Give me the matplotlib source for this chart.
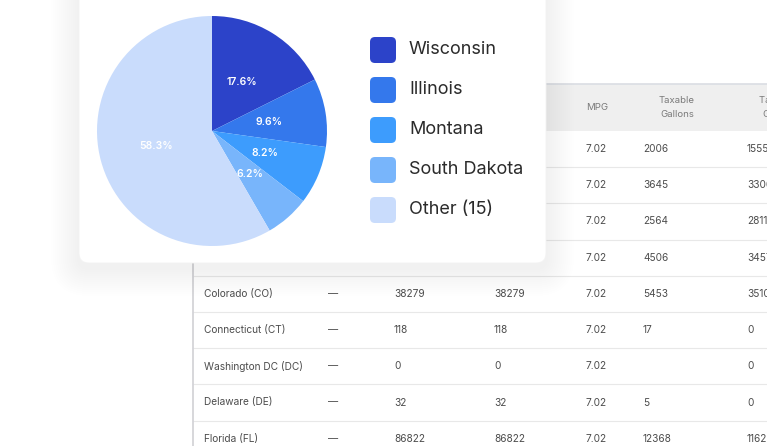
"""Pie card (fuel share by state) floating over an IFTA mileage table."""

import matplotlib

matplotlib.use("Agg")
import matplotlib.pyplot as plt
from matplotlib.patches import FancyBboxPatch, Rectangle

plt.rcParams["font.family"] = ["Inter", "DejaVu Sans"]

# pie data
STATES = ["Wisconsin", "Illinois", "Montana", "South Dakota", "Other (15)"]
SHARES = [17.6, 9.6, 8.2, 6.2, 58.3]
COLORS = ["#2c43c9", "#3478ec", "#3d9cfd", "#78b5fb", "#c9dcfc"]

# table data (first rows sit under the card)
HEADERS = ["", "", "", "", "MPG", "Taxable\nGallons", "Tax Paid\nGallons"]
JURISDICTIONS = ["", "", "", "", "Colorado (CO)", "Connecticut (CT)",
                 "Washington DC (DC)", "Delaware (DE)", "Florida (FL)"]
FLAGS = ["—"] * 9
TOTAL_MILES = ["", "", "", "", "38279", "118", "0", "32", "86822"]
TAXABLE_MILES = ["", "", "", "", "38279", "118", "0", "32", "86822"]
MPG = ["7.02"] * 9
TAXABLE_GALLONS = ["2006", "3645", "2564", "4506", "5453", "17", "", "5", "12368"]
TAX_PAID_GALLONS = ["1555", "3306", "2811", "3457", "3510", "0", "0", "0", "11628"]

W, H = 767, 446
fig = plt.figure(figsize=(W / 100, H / 100), dpi=100)
fig.patch.set_facecolor("white")

# background axes in pixel units
bg = fig.add_axes([0, 0, 1, 1])
bg.set_xlim(0, W)
bg.set_ylim(H, 0)
bg.axis("off")

# ---- table ----
tbl_left = 193
head_top, head_bot = 84, 131
row_h = 36.2
col_x = [204, 328, 394, 494, 586, 643, 747]
head_cx = [None, None, None, None, 597, 677, 779]
columns = [JURISDICTIONS, FLAGS, TOTAL_MILES, TAXABLE_MILES, MPG,
           TAXABLE_GALLONS, TAX_PAID_GALLONS]

bg.add_patch(Rectangle((tbl_left, head_top), W - tbl_left, head_bot - head_top,
                       facecolor="#efefef", edgecolor="none", zorder=1))
bg.plot([tbl_left, W], [head_top, head_top], color="#dadde3", lw=1.2, zorder=2)
for cx, h in zip(head_cx, HEADERS):
    if cx is None or not h:
        continue
    bg.text(cx, (head_top + head_bot) / 2, h, ha="center", va="center",
            fontsize=6.9, color="#7a7a7a", linespacing=1.75, zorder=2)

n_rows = len(JURISDICTIONS)
for i in range(n_rows):
    yc = head_bot + row_h * (i + 0.5)
    yl = head_bot + row_h * (i + 1)
    bg.plot([tbl_left, W], [yl, yl], color="#e8e8e8", lw=0.8, zorder=2)
    for x, col in zip(col_x, columns):
        if col[i]:
            bg.text(x, yc, col[i], ha="left", va="center", fontsize=7.3,
                    color="#4d4d4d", zorder=2)
bg.plot([tbl_left, tbl_left], [head_bot, H], color="#d4d4d8", lw=1.3, zorder=2)

# ---- card with soft shadow ----
cx0, cy0, cw, ch = 79, -30, 467, 293
for k in range(14, 0, -1):
    grow = k * 2.0
    bg.add_patch(FancyBboxPatch(
        (cx0 - grow, cy0 - grow + 5), cw + 2 * grow, ch + 2 * grow,
        boxstyle=f"round,pad=0,rounding_size={10 + grow}",
        facecolor="black", edgecolor="none", alpha=0.005, zorder=3))
bg.add_patch(FancyBboxPatch((cx0, cy0), cw, ch,
                            boxstyle="round,pad=0,rounding_size=10",
                            facecolor="white", edgecolor="#f3f3f3", lw=0.6,
                            zorder=4))

# legend
for i, (name, c) in enumerate(zip(STATES, COLORS)):
    y = 37 + 40 * i
    bg.add_patch(FancyBboxPatch((370, y), 26, 26,
                                boxstyle="round,pad=0,rounding_size=5",
                                facecolor=c, edgecolor="none", zorder=5))
    bg.text(409, y + 13, name, ha="left", va="center", fontsize=13,
            color="#2b2b2b", zorder=5)

# ---- pie ----
pcx, pcy, r = 212, 131, 115
pie_ax = fig.add_axes([(pcx - r) / W, (H - pcy - r) / H, 2 * r / W, 2 * r / H])
pie_ax.set_zorder(6)
total = sum(SHARES)
pie_ax.pie(
    SHARES, colors=COLORS, startangle=90, counterclock=False,
    autopct=lambda p: f"{p * total / 100:.1f}%", pctdistance=0.5,
    wedgeprops={"linewidth": 0},
    textprops={"color": "white", "fontsize": 7.5, "fontweight": "semibold"},
)
pie_ax.set_xlim(-1, 1)
pie_ax.set_ylim(-1, 1)
pie_ax.axis("off")

fig.savefig("out.png", dpi=100, facecolor="white")
plt.close(fig)
